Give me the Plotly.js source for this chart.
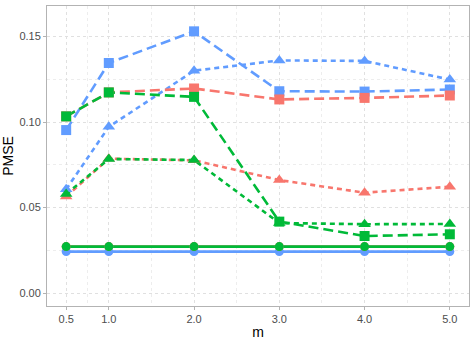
<!DOCTYPE html>
<html>
<head>
<meta charset="utf-8">
<script src="https://cdn.plot.ly/plotly-3.0.1.min.js"></script>
<style>
  body { margin: 0; }
  #chart { width: 476px; height: 340px; }
</style>
</head>
<body>
<div id="chart"></div>
<script>
var m = [0.5, 1.0, 2.0, 3.0, 4.0, 5.0];

// circles (solid lines)
var blueCircle  = [0.0243, 0.0243, 0.0243, 0.0243, 0.0243, 0.0243];
var redCircle   = [0.0272, 0.0272, 0.0272, 0.0272, 0.0272, 0.0272];
var greenCircle = [0.0272, 0.0272, 0.0272, 0.0272, 0.0272, 0.0272];

// squares (dashed lines)
var blueSquare  = [0.0953, 0.1345, 0.1530, 0.1180, 0.1178, 0.1190];
var redSquare   = [0.1033, 0.1173, 0.1196, 0.1132, 0.1141, 0.1155];
var greenSquare = [0.1033, 0.1173, 0.1147, 0.0418, 0.0334, 0.0344];

// triangles (dotted lines)
var blueTri  = [0.0607, 0.0972, 0.1300, 0.1360, 0.1357, 0.1248];
var redTri   = [0.0565, 0.0786, 0.0776, 0.0661, 0.0587, 0.0622];
var greenTri = [0.0579, 0.0784, 0.0778, 0.0410, 0.0403, 0.0404];

var blue = "#619CFF", red = "#F8766D", green = "#00BA38";

var groups = [
  {y: blueCircle,  color: blue,  dash: "solid",     symbol: "circle",      size: 9},
  {y: blueSquare,  color: blue,  dash: "10px,5px",  symbol: "square",      size: 10},
  {y: blueTri,     color: blue,  dash: "5px,4px",   symbol: "triangle-up", size: 11},
  {y: redCircle,   color: red,   dash: "solid",     symbol: "circle",      size: 9},
  {y: redSquare,   color: red,   dash: "10px,5px",  symbol: "square",      size: 10},
  {y: redTri,      color: red,   dash: "5px,4px",   symbol: "triangle-up", size: 11},
  {y: greenCircle, color: green, dash: "solid",     symbol: "circle",      size: 9},
  {y: greenSquare, color: green, dash: "10px,5px",  symbol: "square",      size: 10},
  {y: greenTri,    color: green, dash: "5px,4px",   symbol: "triangle-up", size: 11}
];

// lines first, then the points on top (like geom_line + geom_point)
var lineTraces = groups.map(g => ({
  x: m, y: g.y, type: "scatter", mode: "lines",
  line: {color: g.color, width: 2.6, dash: g.dash},
  hoverinfo: "skip"
}));
var pointTraces = groups.map(g => ({
  x: m, y: g.y, type: "scatter", mode: "markers",
  marker: {color: g.color, symbol: g.symbol, size: g.size, line: {width: 0}}
}));

var data = lineTraces.concat(pointTraces);

var layout = {
  width: 476,
  height: 340,
  showlegend: false,
  paper_bgcolor: "white",
  plot_bgcolor: "white",
  font: {family: "Liberation Sans, Arial, sans-serif", size: 11, color: "#4D4D4D"},
  margin: {l: 47, r: 7, t: 6, b: 34},
  xaxis: {
    title: {text: "m", font: {size: 14, color: "black"}, standoff: 4},
    range: [0.275, 5.225],
    tickvals: m,
    ticktext: ["0.5", "1.0", "2.0", "3.0", "4.0", "5.0"],
    ticks: "outside", ticklen: 3, tickcolor: "#B3B3B3",
    showline: true, mirror: true, linecolor: "#B3B3B3", linewidth: 1,
    showgrid: true, gridcolor: "#E0E0E0", griddash: "dot", gridwidth: 1,
    zeroline: false,
    minor: {tickvals: [0.75, 1.5, 2.5, 3.5, 4.5], showgrid: true, gridcolor: "#EDEDED", gridwidth: 1, ticks: ""}
  },
  yaxis: {
    title: {text: "PMSE", font: {size: 14, color: "black"}, standoff: 6},
    range: [-0.0075, 0.1678],
    tickvals: [0, 0.05, 0.10, 0.15],
    ticktext: ["0.00", "0.05", "0.10", "0.15"],
    ticks: "outside", ticklen: 3, tickcolor: "#B3B3B3",
    showline: true, mirror: true, linecolor: "#B3B3B3", linewidth: 1,
    showgrid: true, gridcolor: "#E0E0E0", griddash: "dot", gridwidth: 1,
    zeroline: false,
    minor: {tickvals: [0.025, 0.075, 0.125], showgrid: true, gridcolor: "#EDEDED", gridwidth: 1, ticks: ""}
  }
};

Plotly.newPlot("chart", data, layout, {displayModeBar: false});
</script>
</body>
</html>
